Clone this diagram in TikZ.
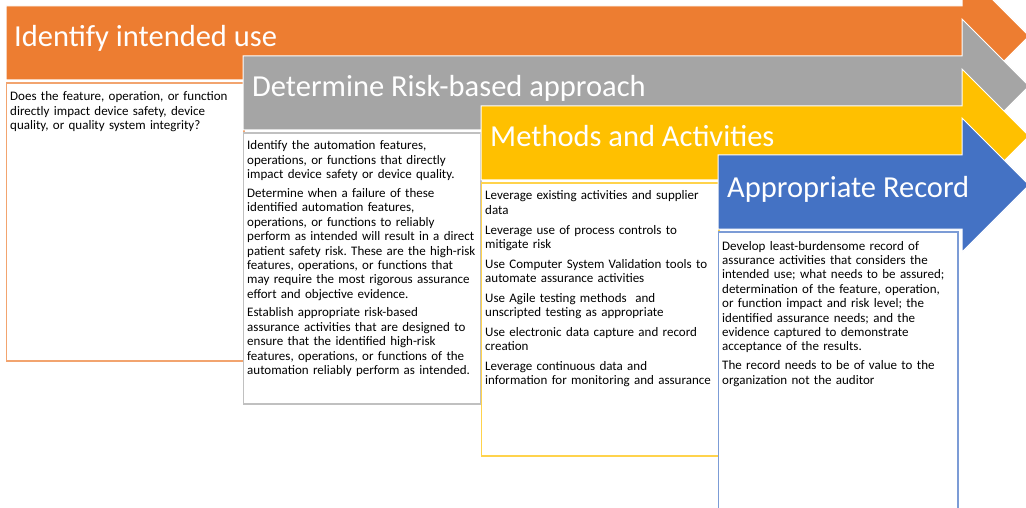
\documentclass[tikz,border=0pt]{standalone}
\usepackage{fontspec}
\setmainfont{Carlito}
\frenchspacing
\usetikzlibrary{positioning}
\definecolor{useorange}{HTML}{ED7D31}
\definecolor{riskgray}{HTML}{A5A5A5}
\definecolor{methyellow}{HTML}{FFC000}
\definecolor{recblue}{HTML}{4472C4}
\tikzset{x=1pt, y=-1pt}
\tikzstyle{banner} = [draw=white, line width=1pt]
\tikzstyle{box} = [fill=white, line width=1.3pt]
\tikzstyle{title} = [anchor=base west, inner sep=0pt, text=white, font=\fontsize{30.5}{34}\selectfont]
\tikzstyle{body} = [anchor=base west, inner sep=0pt, text width=260pt, align=left, font=\fontsize{13}{14.4}\selectfont]

\begin{document}
\begin{tikzpicture}
    \useasboundingbox (0,0) rectangle (1026,508);
    \clip (0,0) rectangle (1026,508);
    \fill [white] (0,0) rectangle (1026,508);
    \foreach \l/\t/\r/\b/\c in {6/6/244/361/useorange, 243/56/481/404/riskgray, 481/106/719/456/methyellow, 718/155/958/530/recblue}{
        \draw [banner, fill=\c] (\l,\t) -- (962,\t) -- (962,\t-37) -- (1029,\t+30) -- (962,\t+97) -- (962,\t+74) -- (\l,\t+74) -- cycle;
        \draw [box, draw=\c!70] (\l+0.7,\t+77) rectangle (\r,\b);
    }

    \node [title] (use_title) at (14,47) {Identify intended use};
    \node [title] (risk_title) at (252,97) {Determine Risk-based approach};
    \node [title] (meth_title) at (490,147) {Methods and Activities};
    \node [title] (rec_title) at (727,197) {Appropriate Record};

    \node [body] (use_text) at (10,101) {Does the feature, operation, or function\\
        directly impact device safety, device\\
        quality, or quality system integrity?};
    \node [body] (risk_text) at (247,150) {Identify the automation features,\\
        operations, or functions that directly\\
        impact device safety or device quality.\\[4.3pt]
        Determine when a failure of these\\
        identified automation features,\\
        operations, or functions to reliably\\
        perform as intended will result in a direct\\
        patient safety risk. These are the high-risk\\
        features, operations, or functions that\\
        may require the most rigorous assurance\\
        effort and objective evidence.\\[4.3pt]
        Establish appropriate risk-based\\
        assurance activities that are designed to\\
        ensure that the identified high-risk\\
        features, operations, or functions of the\\
        automation reliably perform as intended.};
    \node [body] (meth_text) at (485,200) {Leverage existing activities and supplier\\
        data\\[5.3pt]
        Leverage use of process controls to\\
        mitigate risk\\[5.3pt]
        Use Computer System Validation tools to\\
        automate assurance activities\\[5.3pt]
        Use Agile testing methods\ \ and\\
        unscripted testing as appropriate\\[5.3pt]
        Use electronic data capture and record\\
        creation\\[5.3pt]
        Leverage continuous data and\\
        information for monitoring and assurance};
    \node [body] (rec_text) at (722,250) {Develop least-burdensome record of\\
        assurance activities that considers the\\
        intended use; what needs to be assured;\\
        determination of the feature, operation,\\
        or function impact and risk level; the\\
        identified assurance needs; and the\\
        evidence captured to demonstrate\\
        acceptance of the results.\\[4.5pt]
        The record needs to be of value to the\\
        organization not the auditor};
\end{tikzpicture}
\end{document}
